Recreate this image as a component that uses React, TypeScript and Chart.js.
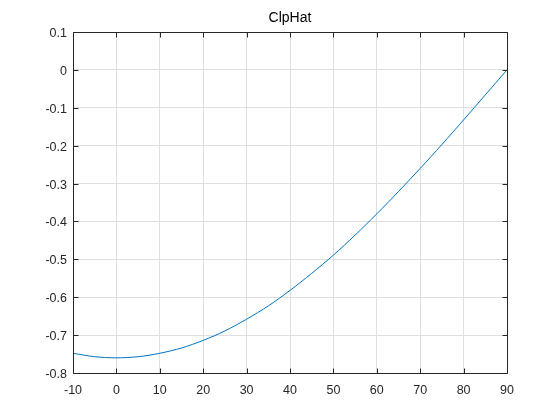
import React, { useEffect, useRef } from "react";
import { Chart, registerables } from "chart.js";

Chart.register(...registerables);

const TITLE = "ClpHat";
const xValues = [-10, -5, 0, 5, 10, 15, 20, 25, 30, 35, 40, 45, 50, 55, 60, 65, 70, 75, 80, 85, 90];
const yValues = [-0.748, -0.757, -0.76, -0.757, -0.748, -0.734, -0.714, -0.689, -0.658, -0.623, -0.582, -0.537, -0.489, -0.436, -0.38, -0.321, -0.26, -0.197, -0.132, -0.066, 0];
const xTicks = [-10, 0, 10, 20, 30, 40, 50, 60, 70, 80, 90];
const yTicks = [0.1, 0, -0.1, -0.2, -0.3, -0.4, -0.5, -0.6, -0.7, -0.8];

const FONT = "'Liberation Sans', Arial, Helvetica, sans-serif";
const AXIS_COLOR = "#262626";

const boxPlugin = {
  id: "matlabBox",
  afterDraw(chart: any) {
    const { ctx, chartArea } = chart;
    const { left, right, top, bottom } = chartArea;
    const xs = chart.scales.x;
    const ys = chart.scales.y;
    ctx.save();
    ctx.strokeStyle = AXIS_COLOR;
    ctx.lineWidth = 1;
    const L = Math.round(left) + 0.5;
    const R = Math.round(right) + 0.5;
    const T = Math.round(top) + 0.5;
    const B = Math.round(bottom) + 0.5;
    ctx.beginPath();
    ctx.rect(L, T, R - L, B - T);
    const tl = 5;
    xTicks.forEach((v) => {
      const px = Math.round(xs.getPixelForValue(v)) + 0.5;
      ctx.moveTo(px, B);
      ctx.lineTo(px, B - tl);
      ctx.moveTo(px, T);
      ctx.lineTo(px, T + tl);
    });
    yTicks.forEach((v) => {
      const py = Math.round(ys.getPixelForValue(v)) + 0.5;
      ctx.moveTo(L, py);
      ctx.lineTo(L + tl, py);
      ctx.moveTo(R, py);
      ctx.lineTo(R - tl, py);
    });
    ctx.stroke();
    ctx.fillStyle = "#000000";
    ctx.font = `14px ${FONT}`;
    ctx.textAlign = "center";
    ctx.textBaseline = "middle";
    ctx.fillText(TITLE, (left + right) / 2, 18);
    ctx.restore();
  },
};

export default function App() {
  const ref = useRef<HTMLCanvasElement | null>(null);
  useEffect(() => {
    if (!ref.current) return;
    const chart = new Chart(ref.current, {
      type: "line",
      data: {
        datasets: [
          {
            label: TITLE,
            data: xValues.map((x, i) => ({ x, y: yValues[i] })),
            borderColor: "#0072BD",
            borderWidth: 1,
            pointRadius: 0,
            fill: false,
            tension: 0.3,
          },
        ],
      },
      options: {
        responsive: false,
        animation: false,
        devicePixelRatio: 1,
        layout: { padding: { left: 0, top: 32, right: 53, bottom: 0 } },
        plugins: {
          legend: { display: false },
          title: { display: false },
          tooltip: { enabled: false },
        },
        scales: {
          x: {
            type: "linear",
            min: -10,
            max: 90,
            afterFit(scale: any) {
              scale.height = 47;
            },
            afterBuildTicks(scale: any) {
              scale.ticks = xTicks.map((v) => ({ value: v }));
            },
            border: { display: false },
            grid: { color: "#dfdfdf", drawTicks: false, lineWidth: 1 },
            ticks: {
              padding: 10,
              color: AXIS_COLOR,
              font: { family: FONT, size: 12.5 },
              maxRotation: 0,
              callback: (v: any) => String(Math.round(Number(v))),
            },
          },
          y: {
            type: "linear",
            min: -0.8,
            max: 0.1,
            afterFit(scale: any) {
              scale.width = 73;
            },
            afterBuildTicks(scale: any) {
              scale.ticks = yTicks.map((v) => ({ value: v }));
            },
            border: { display: false },
            grid: { color: "#dfdfdf", drawTicks: false, lineWidth: 1 },
            ticks: {
              padding: 6,
              labelOffset: 1.5,
              color: AXIS_COLOR,
              font: { family: FONT, size: 12.5 },
              callback: (v: any) => String(Number(Number(v).toFixed(1))),
            },
          },
        },
      },
      plugins: [boxPlugin],
    });
    return () => chart.destroy();
  }, []);
  return (
    <div style={{ position: "absolute", left: 0, top: 0, width: 560, height: 420, background: "#ffffff" }}>
      <canvas ref={ref} width={560} height={420} />
    </div>
  );
}
